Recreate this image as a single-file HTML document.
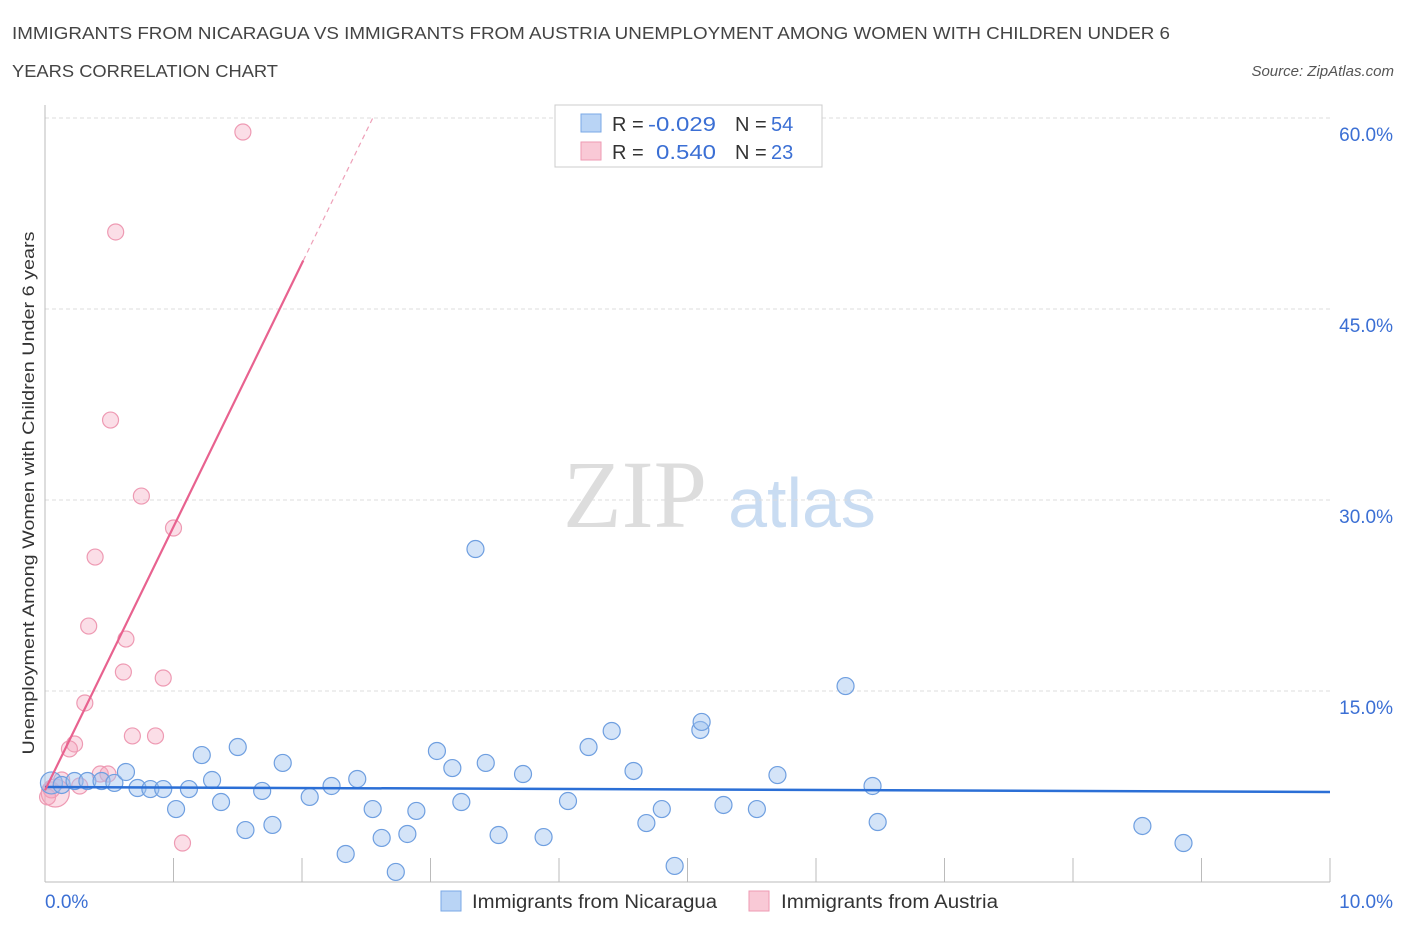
<!DOCTYPE html>
<html><head><meta charset="utf-8"><style>
body{margin:0;background:#fff;font-family:"Liberation Sans",sans-serif;}
svg{display:block}
</style></head><body>
<svg id="chart" width="1406" height="930" xmlns="http://www.w3.org/2000/svg">
<text x="12" y="39" font-size="17.5" fill="#444" textLength="1158" lengthAdjust="spacingAndGlyphs">IMMIGRANTS FROM NICARAGUA VS IMMIGRANTS FROM AUSTRIA UNEMPLOYMENT AMONG WOMEN WITH CHILDREN UNDER 6</text>
<text x="12" y="77" font-size="17.5" fill="#444" textLength="266" lengthAdjust="spacingAndGlyphs">YEARS CORRELATION CHART</text>
<text x="1394" y="76" font-size="15" fill="#555" font-style="italic" text-anchor="end">Source: ZipAtlas.com</text>
<text x="635" y="527" font-size="96" fill="#ddd" font-family="Liberation Serif,serif" text-anchor="middle">ZIP</text>
<text x="802" y="527" font-size="70" fill="#c9dcf2" text-anchor="middle">atlas</text>
<g id="grid"></g><g id="axes"></g>
<g id="marks"></g>
<text transform="translate(34,493) rotate(-90)" font-size="17" fill="#333" text-anchor="middle" textLength="523" lengthAdjust="spacingAndGlyphs">Unemployment Among Women with Children Under 6 years</text>
<g>
<rect x="555" y="105" width="267" height="62" fill="#fff" stroke="#ccc"/>
<rect x="581" y="114" width="20" height="18" fill="#b9d4f5" stroke="#7aa8e6"/>
<rect x="581" y="142" width="20" height="18" fill="#f9c9d6" stroke="#ee9ab3"/>
<g font-size="20" fill="#333">
<text x="612" y="131">R =</text><text x="648" y="131" fill="#3b6fd4" textLength="68" lengthAdjust="spacingAndGlyphs">-0.029</text>
<text x="735" y="131">N =</text><text x="771" y="131" fill="#3b6fd4">54</text>
<text x="612" y="159">R =</text><text x="656" y="159" fill="#3b6fd4" textLength="60" lengthAdjust="spacingAndGlyphs">0.540</text>
<text x="735" y="159">N =</text><text x="771" y="159" fill="#3b6fd4">23</text>
</g>
</g>
<g>
<rect x="441" y="891" width="20" height="20" fill="#b9d4f5" stroke="#7aa8e6"/>
<text x="472" y="908" font-size="19" fill="#333" textLength="245" lengthAdjust="spacingAndGlyphs">Immigrants from Nicaragua</text>
<rect x="749" y="891" width="20" height="20" fill="#f9c9d6" stroke="#ee9ab3"/>
<text x="781" y="908" font-size="19" fill="#333" textLength="217" lengthAdjust="spacingAndGlyphs">Immigrants from Austria</text>
</g>
</svg>
<script>
const blueX=[0.05,0.13,0.23,0.33,0.44,0.54,0.63,0.72,0.82,0.92,1.02,1.12,1.22,1.30,1.37,1.50,1.56,1.69,1.77,1.85,2.06,2.23,2.34,2.43,2.55,2.62,2.73,2.82,2.89,3.05,3.17,3.24,3.35,3.43,3.53,3.72,3.88,4.07,4.23,4.41,4.58,4.68,4.80,4.90,5.10,5.11,5.28,5.54,5.70,6.23,6.44,6.48,8.54,8.86];
const blueY=[7.78,7.62,7.93,7.93,7.93,7.78,8.64,7.38,7.30,7.30,5.73,7.30,9.97,8.01,6.28,10.60,4.08,7.15,4.48,9.35,6.68,7.54,2.20,8.09,5.73,3.46,0.79,3.77,5.58,10.29,8.95,6.28,26.15,9.35,3.69,8.48,3.53,6.36,10.60,11.86,8.72,4.63,5.73,1.26,11.94,12.57,6.05,5.73,8.40,15.39,7.54,4.71,4.40,3.06];
const pinkX=[1.54,0.55,0.51,0.75,1.00,0.39,0.34,0.63,0.61,0.92,0.31,0.68,0.86,0.23,0.19,0.43,0.49,0.27,0.13,0.05,0.02,1.07,0.08];
const pinkY=[58.9,51.05,36.28,30.31,27.80,25.52,20.10,19.08,16.49,16.02,14.06,11.47,11.47,10.84,10.45,8.48,8.48,7.54,8.01,7.23,6.68,3.06,6.99];
const yTicks=[15,30,45,60];
const xTickLabels=["0.0%","10.0%"];
const blueTrend=[7.46,7.07];
const pinkTrend=[7.2,20.7];
const NS='http://www.w3.org/2000/svg';
const sx=v=>45+v*128.5, sy=v=>882-v*12.733;
function mk(t,a,p){const e=document.createElementNS(NS,t);for(const k in a)e.setAttribute(k,a[k]);p.appendChild(e);return e;}
const grid=document.getElementById('grid'),axes=document.getElementById('axes'),marks=document.getElementById('marks');
yTicks.forEach(v=>{
 const l=mk('line',{x1:45,x2:1330,y1:sy(v),y2:sy(v),stroke:'#ddd','stroke-dasharray':'4,3'},grid);
 
 
 const t=mk('text',{x:1393,y:sy(v)+23,'font-size':19,fill:'#3b6fd4','text-anchor':'end'},axes);
 t.textContent=v.toFixed(1)+'%';
 
 
});
mk('line',{x1:45,x2:45,y1:105,y2:882,stroke:'#bbb'},axes);
mk('line',{x1:45,x2:1330,y1:882,y2:882,stroke:'#bbb'},axes);
for(let i=1;i<=10;i++){const l=mk('line',{x1:sx(i),x2:sx(i),y1:858,y2:882,stroke:'#bbb'},axes);
 
 }
const t0=mk('text',{x:45,y:908,'font-size':19,fill:'#3b6fd4'},axes);t0.textContent=xTickLabels[0];


const t1=mk('text',{x:1393,y:908,'font-size':19,fill:'#3b6fd4','text-anchor':'end'},axes);t1.textContent=xTickLabels[1];


pinkX.forEach((x,i)=>{const c=mk('circle',{cx:sx(x),cy:sy(pinkY[i]),r:i==pinkX.length-1?14:8,fill:'rgba(244,160,185,0.35)',stroke:'#ee9ab3','stroke-width':1.2},marks);
 
 });
blueX.forEach((x,i)=>{const c=mk('circle',{cx:sx(x),cy:sy(blueY[i]),r:i==0?11:8.5,fill:'rgba(160,196,240,0.45)',stroke:'#6f9fe0','stroke-width':1.2},marks);
 
 });
const bl=mk('line',{x1:sx(0),y1:sy(blueTrend[0]),x2:sx(10),y2:sy(blueTrend[1]),stroke:'#2b6fd6','stroke-width':2.5},marks);


const xs=2.01, xe=(60-pinkTrend[0])/pinkTrend[1];
const pl=mk('line',{x1:sx(0),y1:sy(pinkTrend[0]),x2:sx(xs),y2:sy(pinkTrend[0]+pinkTrend[1]*xs),stroke:'#e8628f','stroke-width':2.2},marks);


const pd=mk('line',{x1:sx(xs),y1:sy(pinkTrend[0]+pinkTrend[1]*xs),x2:sx(xe),y2:sy(60),stroke:'#eea0b8','stroke-width':1.2,'stroke-dasharray':'5,4'},marks);


</script>
</body></html>
